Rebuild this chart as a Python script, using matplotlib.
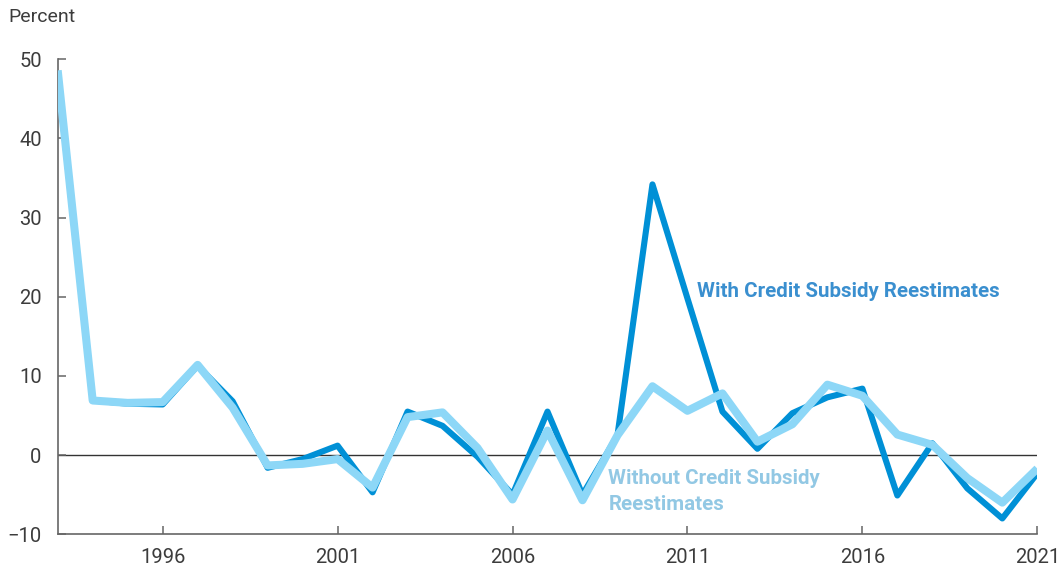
import matplotlib
matplotlib.use("Agg")
import matplotlib.pyplot as plt

# Annual growth, percent, fiscal years 1993-2021
years = list(range(1993, 2022))
with_reestimates = [
    48.3, 6.9, 6.5, 6.4, 11.3, 6.8, -1.6, -0.5, 1.2, -4.7,
    5.5, 3.7, -0.2, -5.0, 5.5, -5.0, 2.5, 34.2, 19.8, 5.5,
    0.8, 5.3, 7.3, 8.4, -5.1, 1.5, -4.2, -8.0, -2.3,
]
without_reestimates = [
    48.6, 6.9, 6.6, 6.7, 11.4, 6.0, -1.3, -1.1, -0.5, -4.1,
    4.8, 5.4, 0.9, -5.6, 3.1, -5.7, 2.5, 8.7, 5.6, 7.8,
    1.7, 3.9, 8.9, 7.5, 2.6, 1.3, -2.9, -6.0, -1.7,
]
xticks = [1996, 2001, 2006, 2011, 2016, 2021]
yticks = [-10, 0, 10, 20, 30, 40, 50]

DARK = "#0090d6"
LIGHT = "#8dd7f7"
TICK_GRAY = "#666666"
TEXT_GRAY = "#3c3c3c"

plt.rcParams["font.family"] = ["Roboto", "DejaVu Sans"]

fig = plt.figure(figsize=(10.62, 5.71), dpi=100)
ax = fig.add_axes([57.7 / 1062, 1 - 534.3 / 571, (1037.3 - 57.7) / 1062, (534.3 - 59.3) / 571])

ax.axhline(0, color="#333333", lw=1.0, zorder=1)
ax.plot(years, with_reestimates, color=DARK, lw=4.4, solid_joinstyle="round",
        solid_capstyle="butt", zorder=2)
ax.plot(years, without_reestimates, color=LIGHT, lw=5.8, solid_joinstyle="round",
        solid_capstyle="butt", zorder=3)

ax.set_xlim(1993, 2021)
ax.set_ylim(-10, 50)
ax.set_xticks(xticks)
ax.set_yticks(yticks)
ax.set_yticklabels([str(v).replace("-", "\u2212") for v in yticks])

for side in ("top", "right"):
    ax.spines[side].set_visible(False)
for side in ("left", "bottom"):
    ax.spines[side].set_color(TICK_GRAY)
    ax.spines[side].set_linewidth(1.2)

ax.tick_params(axis="y", direction="in", length=5.5, width=1.1, color=TICK_GRAY,
               labelsize=14.5, labelcolor=TEXT_GRAY, pad=11.5)
ax.tick_params(axis="x", direction="in", length=6, width=1.1, color=TICK_GRAY,
               labelsize=14.5, labelcolor=TEXT_GRAY, pad=10)

fig.text(8 / 1062, 1 - 8 / 571, "Percent", ha="left", va="top", fontsize=14,
         color=TEXT_GRAY)

ax.text(2011.28, 20.7, "With Credit Subsidy Reestimates", color="#3a8fcf",
        fontsize=14.8, fontweight="bold", ha="left", va="center")
ax.text(2008.74, -4.6, "Without Credit Subsidy\nReestimates", color="#92c8e4",
        fontsize=14.8, fontweight="bold", ha="left", va="center", linespacing=1.45)

fig.savefig("out.png", dpi=100)
